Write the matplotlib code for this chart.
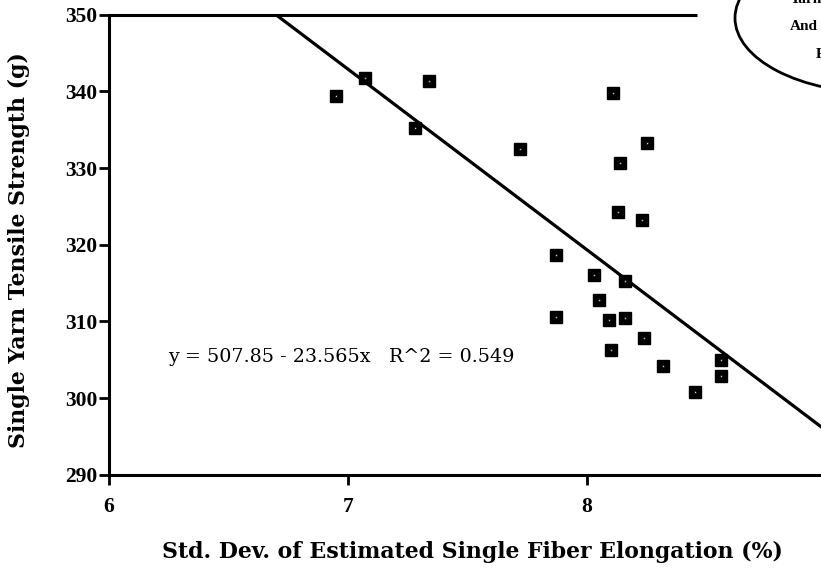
import numpy as np
import matplotlib
matplotlib.use("Agg")
import matplotlib.pyplot as plt
from matplotlib.patches import Ellipse

# ---- data ----
fiber_elong_sd = [6.95, 7.07, 7.28, 7.34, 7.72, 7.87, 7.87, 8.03, 8.05, 8.09,
                  8.10, 8.11, 8.14, 8.13, 8.16, 8.16, 8.25, 8.23, 8.24, 8.32,
                  8.45, 8.56, 8.56]
yarn_strength = [339.4, 341.8, 335.2, 341.4, 332.5, 318.7, 310.6, 316.0, 312.8, 310.2,
                 306.2, 339.8, 330.7, 324.3, 315.2, 310.5, 333.2, 323.2, 307.8, 304.2,
                 300.8, 305.0, 302.9]
fit_intercept = 507.85
fit_slope = -23.565
fit_label = "y = 507.85 - 23.565x   R^2 = 0.549"
x_ticks = [6, 7, 8, 9]
y_ticks = [290, 300, 310, 320, 330, 340, 350]
x_label = "Std. Dev. of Estimated Single Fiber Elongation (%)"
y_label = "Single Yarn Tensile Strength (g)"
note_lines = ["Yarn", "And", "F"]

W, H = 821, 571
fig = plt.figure(figsize=(W / 100, H / 100), dpi=100)
fig.patch.set_facecolor("white")

x0_px, unit_px = 109, 239.0
y_top_px, y_bot_px = 14.7, 474.7
xmax = 9.2
ax = fig.add_axes([x0_px / W, (H - y_bot_px) / H,
                   (xmax - 6) * unit_px / W, (y_bot_px - y_top_px) / H])
ax.set_xlim(6, xmax)
ax.set_ylim(290, 350)
ax.set_facecolor("white")

for s in ["top", "right"]:
    ax.spines[s].set_visible(False)
for s in ["left", "bottom"]:
    ax.spines[s].set_linewidth(2.2)
    ax.spines[s].set_color("black")
# partial top line, as in the reference
ax.plot([6, 8.46], [350, 350], color="black", lw=2.2, clip_on=False,
        solid_capstyle="butt", zorder=3)

tick_font = dict(family="Liberation Serif", weight="bold", size=15.5)
ax.set_xticks(x_ticks)
ax.set_yticks(y_ticks)
ax.set_xticklabels([str(t) for t in x_ticks], **tick_font)
ax.set_yticklabels([str(t) for t in y_ticks], **tick_font)
ax.tick_params(axis="both", direction="out", length=7, width=2, color="black")
ax.tick_params(axis="x", pad=9)
ax.tick_params(axis="y", pad=1.5)

# regression line
xs = np.array([6.0, xmax])
ax.plot(xs, fit_intercept + fit_slope * xs, color="black", lw=2.3, zorder=2)

# points: black squares with a tiny light centre
ax.plot(fiber_elong_sd, yarn_strength, ls="none", marker="s", ms=8.6,
        mfc="black", mec="black", zorder=4)
ax.plot(fiber_elong_sd, yarn_strength, ls="none", marker="s", ms=1.1,
        mfc="#bbbbbb", mec="none", zorder=5)

ax.text(168 / W, (H - 357) / H, fit_label, transform=fig.transFigure,
        ha="left", va="center", family="DejaVu Serif", size=13.8)

fig.text(472 / W, (H - 552) / H, x_label, ha="center", va="center",
         family="DejaVu Serif", weight="bold", size=15.8)
fig.text(19 / W, (H - 250) / H, y_label, ha="center", va="center",
         rotation=90, family="DejaVu Serif", weight="bold", size=15.8)

# cut-off annotation ellipse in the top right
fig.patches.append(Ellipse((880 / W, (H - 18) / H), 290 / W, 150 / H,
                           transform=fig.transFigure, fill=False,
                           ec="black", lw=2.0))
fig.text(790 / W, (H - 3) / H, note_lines[0], ha="left", va="baseline",
         family="Liberation Serif", weight="bold", size=11)
fig.text(790 / W, (H - 27) / H, note_lines[1], ha="left", va="center",
         family="Liberation Serif", weight="bold", size=11)
fig.text(816 / W, (H - 54) / H, note_lines[2], ha="left", va="center",
         family="Liberation Serif", weight="bold", size=11)

fig.savefig("out.png", dpi=100, facecolor="white")
